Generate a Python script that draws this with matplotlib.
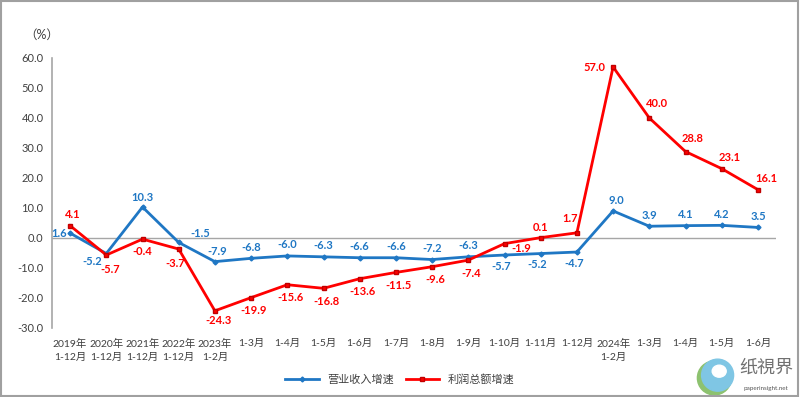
"""Revenue and profit growth, monthly cumulative, 2019-2024."""
import matplotlib.pyplot as plt
from matplotlib.patches import Rectangle, Ellipse

plt.rcParams["font.family"] = ["Lato", "Noto Sans CJK SC", "DejaVu Sans"]

categories = [
    "2019年\n1-12月", "2020年\n1-12月", "2021年\n1-12月", "2022年\n1-12月",
    "2023年\n1-2月", "1-3月", "1-4月", "1-5月", "1-6月", "1-7月", "1-8月",
    "1-9月", "1-10月", "1-11月", "1-12月", "2024年\n1-2月", "1-3月", "1-4月",
    "1-5月", "1-6月",
]
revenue = [1.6, -5.2, 10.3, -1.5, -7.9, -6.8, -6.0, -6.3, -6.6, -6.6, -7.2,
           -6.3, -5.7, -5.2, -4.7, 9.0, 3.9, 4.1, 4.2, 3.5]
profit = [4.1, -5.7, -0.4, -3.7, -24.3, -19.9, -15.6, -16.8, -13.6, -11.5,
          -9.6, -7.4, -1.9, 0.1, 1.7, 57.0, 40.0, 28.8, 23.1, 16.1]

BLUE = "#1F77C4"
RED = "#FF0000"

# label offsets in pixels (dx, dy, ha)
rev_off = [(-3, 0, "right"), (-14, -8, "center"), (0, 10, "center"), (22, 9, "center"),
           (2, 10, "center")] + [(0, 11, "center")] * 7 + [(-3, -11, "center")] * 3 \
          + [(3, 10, "center")] + [(0, 11, "center")] * 4
prof_off = [(3, 11, "center"), (4, -14, "center"), (0, -12, "center"), (-4, -14, "center"),
            (4, -10, "center")] + [(3, -13, "center")] * 7 + [(17, -5, "center"),
            (0, 10, "center"), (-7, 14, "center"), (-8, -1, "right"), (8, 14, "center"),
            (7, 13, "center"), (8, 11, "center"), (8, 11, "center")]

fig = plt.figure(figsize=(8, 3.97), dpi=100)
ax = fig.add_axes([0.065, 0.174, 0.905, 0.68])
x = list(range(len(categories)))

ax.axhline(0, color="#A6A6A6", lw=1, zorder=1)
ax.plot(x, revenue, color=BLUE, lw=2, marker="D", ms=2.5, label="营业收入增速", zorder=3)
ax.plot(x, profit, color=RED, lw=2, marker="s", ms=3.5, mfc=RED, mec="#C00000",
        label="利润总额增速", zorder=4)

for xi, v, (dx, dy, ha) in zip(x, revenue, rev_off):
    ax.annotate(f"{v:.1f}", (xi, v), xytext=(dx, dy), textcoords="offset pixels",
                ha=ha, va="center", color=BLUE, fontsize=8, fontweight="bold", zorder=5)
for xi, v, (dx, dy, ha) in zip(x, profit, prof_off):
    ax.annotate(f"{v:.1f}", (xi, v), xytext=(dx, dy), textcoords="offset pixels",
                ha=ha, va="center", color=RED, fontsize=8, fontweight="bold", zorder=5)

ax.set_xlim(-0.5, len(categories) - 0.5)
ax.set_ylim(-30, 60)
ax.set_yticks(range(-30, 61, 10))
ax.set_yticklabels([f"{t:.1f}" for t in range(-30, 61, 10)])
ax.set_xticks(x)
ax.set_xticklabels(categories, linespacing=1.5)
ax.tick_params(axis="both", length=0, labelsize=8, colors="#404040")
ax.tick_params(axis="x", labelsize=7.5, pad=8)
ax.tick_params(axis="y", pad=6)
for s in ["top", "right", "bottom"]:
    ax.spines[s].set_visible(False)
ax.spines["left"].set_color("#A6A6A6")
ax.spines["left"].set_linewidth(1.2)

fig.text(0.03, 0.912, "（%）", fontsize=9, color="#404040", va="center")

fig.legend(loc="center", bbox_to_anchor=(0.5, 0.045), ncol=2, frameon=False,
           fontsize=8, handlelength=3, columnspacing=1, labelcolor="#404040")

# watermark logo (sizes in figure fraction, pixel-square)
fig.patches.append(Ellipse((0.893, 0.048), 34 / 800, 34 / 397, transform=fig.transFigure,
                           color="#8DC26F"))
fig.patches.append(Ellipse((0.897, 0.055), 32 / 800, 32 / 397, transform=fig.transFigure,
                           color="#7FC6E4"))
fig.patches.append(Ellipse((0.899, 0.065), 14 / 800, 12 / 397, transform=fig.transFigure,
                           color="white"))
fig.text(0.924, 0.075, "纸視界", fontsize=13, color="#707070", va="center")
fig.text(0.93, 0.022, "paperinsight.net", fontsize=4.5, color="#555555", va="center")

fig.patches.append(Rectangle((0.001, 0.002), 0.997, 0.995, transform=fig.transFigure,
                             fill=False, edgecolor="#A0A0A0", lw=1.5))

fig.savefig("out.png", dpi=100)
